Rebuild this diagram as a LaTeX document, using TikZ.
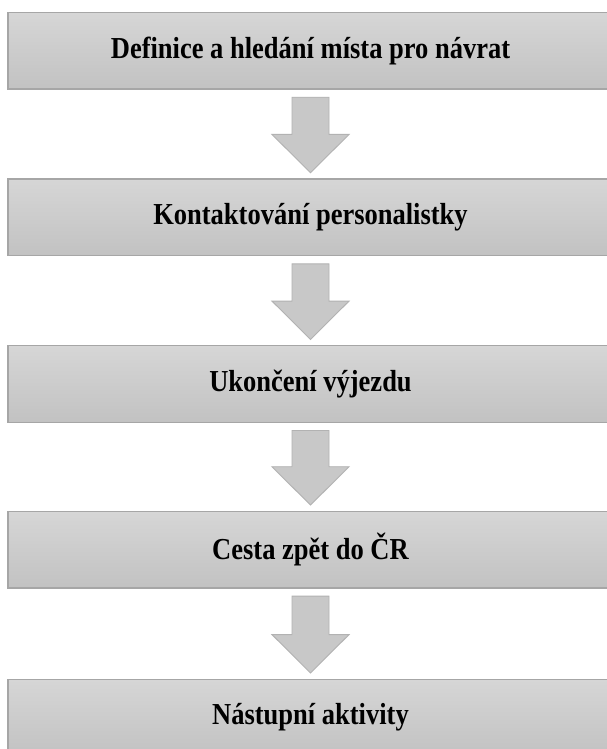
\documentclass[tikz,border=0pt]{standalone}
\usepackage{fontspec}
\usepackage{graphicx}
\setmainfont{Liberation Serif}
\usetikzlibrary{calc}
\definecolor{boxtop}{HTML}{D6D6D6}
\definecolor{boxbot}{HTML}{C2C2C2}
\definecolor{boxline}{HTML}{A6A6A6}
\definecolor{arrfill}{HTML}{C8C8C8}
\definecolor{arrline}{HTML}{B2B2B2}
% Step titles are set slightly tall and narrow
\newcommand{\steptext}[1]{\scalebox{1}[1.15]{#1}}
\tikzset{
  stepbox/.style={rectangle, minimum width=605pt, minimum height=76.5pt,
    inner sep=0pt, outer sep=0pt, top color=boxtop, bottom color=boxbot,
    draw=boxline, line width=1.4pt, font=\fontsize{26.5}{30}\selectfont\bfseries},
  blockarrow/.style={fill=arrfill, draw=arrline, line width=0.9pt, line join=miter}
}
% Block arrow from the bottom of box #1 down to the top of box #2
\newcommand{\flowarrow}[2]{%
  \coordinate (s) at ($(#1.south)+(0,-8.3pt)$);
  \coordinate (t) at ($(#2.north)+(0,6.3pt)$);
  \draw[blockarrow] ($(s)+(-18.5pt,0)$) -- ($(s)+(18.5pt,0)$)
    -- ($(t)+(18.5pt,38.3pt)$) -- ($(t)+(38.5pt,38.3pt)$) -- (t)
    -- ($(t)+(-38.5pt,38.3pt)$) -- ($(t)+(-18.5pt,38.3pt)$) -- cycle;
}
\begin{document}
\begin{tikzpicture}[x=1pt,y=1pt]
  \useasboundingbox (0,0) rectangle (607,749);
  \clip (0,0) rectangle (607,749);
  \fill[white] (0,0) rectangle (607,749);
  \node[stepbox] (b1) at (310.5,698.3) {\steptext{Definice a hledání místa pro návrat}};
  \node[stepbox] (b2) at (310.5,531.7) {\steptext{Kontaktování personalistky}};
  \node[stepbox] (b3) at (310.5,365.0) {\steptext{Ukončení výjezdu}};
  \node[stepbox] (b4) at (310.5,199.4) {\steptext{Cesta zpět do ČR}};
  \node[stepbox] (b5) at (310.5,31.5) {\steptext{Nástupní aktivity}};
  \flowarrow{b1}{b2}
  \flowarrow{b2}{b3}
  \flowarrow{b3}{b4}
  \flowarrow{b4}{b5}
\end{tikzpicture}
\end{document}
